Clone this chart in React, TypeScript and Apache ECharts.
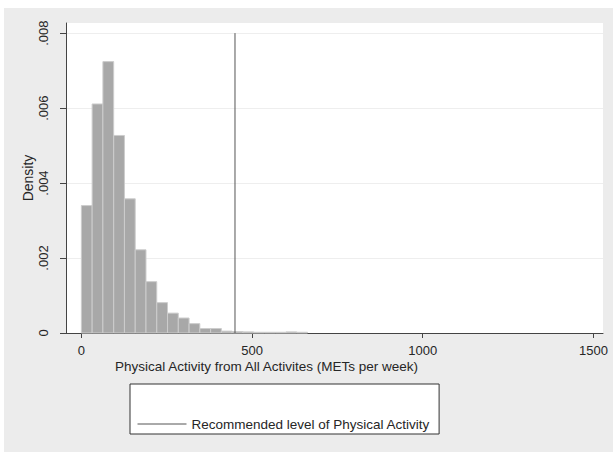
import React, { useEffect, useRef } from "react";
import * as echarts from "echarts";

// Histogram: bins start at 0, each binWidth wide; densities
const binStart = 0;
const binWidth = 31.55;
const densities = [
  0.0034, 0.00611, 0.00724, 0.00527, 0.00358, 0.00222, 0.00137, 0.00081, 0.00053,
  0.0004, 0.00025, 0.00012, 0.00012, 0.00005, 0.00004, 0.00003, 0.00002, 0.00002,
  0.00002, 0.00003, 0.00002,
];
const recommendedLevel = 450;
const recommendedTop = 0.008;
const xTicks = [0, 500, 1000, 1500];
const yTicks = [0, 0.002, 0.004, 0.006, 0.008];
const xTitle = "Physical Activity from All Activites (METs per week)";
const yTitle = "Density";
const legendLabel = "Recommended level of Physical Activity";

const FONT = "'Liberation Sans', Arial, sans-serif";
const TXT = "#262626";

export default function App() {
  const ref = useRef<HTMLDivElement>(null);
  useEffect(() => {
    if (!ref.current) return;
    const chart = echarts.init(ref.current, undefined, { renderer: "svg" });
    const histData = densities.map((d, i) => [
      binStart + i * binWidth,
      binStart + (i + 1) * binWidth,
      d,
    ]);
    chart.setOption({
      animation: false,
      backgroundColor: "#ececec",
      textStyle: { fontFamily: FONT },
      grid: {
        left: 62,
        top: 15,
        right: 10,
        bottom: 119,
        show: true,
        backgroundColor: "#ffffff",
        borderWidth: 0,
      },
      xAxis: {
        type: "value",
        min: -45,
        max: 1528,
        axisLine: { show: true, onZero: false, lineStyle: { color: "#444", width: 1 } },
        axisTick: {
          show: true,
          length: 5,
          customValues: xTicks,
          lineStyle: { color: "#444" },
        },
        axisLabel: {
          customValues: xTicks,
          color: TXT,
          fontSize: 13,
          fontFamily: FONT,
          margin: 11,
          formatter: (v: number) => String(v),
        },
        splitLine: { show: false },
      },
      yAxis: {
        type: "value",
        min: 0,
        max: 0.00827,
        name: yTitle,
        nameLocation: "middle",
        nameGap: 31,
        nameMoveOverlap: false,
        nameTextStyle: { color: TXT, fontSize: 14, fontFamily: FONT },
        axisLine: { show: true, onZero: false, lineStyle: { color: "#444", width: 1 } },
        axisTick: {
          show: true,
          length: 6,
          customValues: yTicks,
          lineStyle: { color: "#444" },
        },
        axisLabel: {
          customValues: yTicks,
          rotate: 90,
          color: TXT,
          fontSize: 13,
          fontFamily: FONT,
          margin: 16,
          formatter: (v: number) => (v === 0 ? "0" : v.toFixed(3).replace(/^0/, "")),
        },
        splitLine: { show: true, lineStyle: { color: "#eeeeee", width: 1 } },
      },
      legend: {
        left: 126,
        top: 376,
        orient: "horizontal",
        backgroundColor: "#ffffff",
        borderColor: "#333333",
        borderWidth: 1,
        borderRadius: 0,
        padding: [33, 9, 3, 7],
        itemWidth: 49,
        itemHeight: 14,
        itemStyle: { opacity: 0 },
        lineStyle: { color: "#555555", width: 1 },
        textStyle: { color: TXT, fontSize: 13.5, fontFamily: FONT },
        data: [legendLabel],
      },
      graphic: [
        {
          type: "text",
          left: 262 - 151,
          top: 359 - 8,
          style: {
            text: xTitle,
            fill: TXT,
            font: `13.5px ${FONT}`,
          },
        },
      ],
      series: [
        {
          type: "custom",
          name: "hist",
          data: histData,
          encode: { x: [0, 1], y: 2 },
          renderItem: (params: any, api: any) => {
            const x0 = api.value(0);
            const x1 = api.value(1);
            const y = api.value(2);
            const p0 = api.coord([x0, y]);
            const p1 = api.coord([x1, 0]);
            return {
              type: "rect",
              shape: {
                x: p0[0],
                y: p0[1],
                width: p1[0] - p0[0],
                height: p1[1] - p0[1],
              },
              style: { fill: "#a8a8a8", stroke: "#cdcdcd", lineWidth: 1 },
            };
          },
        },
        {
          type: "line",
          name: legendLabel,
          data: [
            [recommendedLevel, 0],
            [recommendedLevel, recommendedTop],
          ],
          symbol: "none",
          lineStyle: { color: "#555555", width: 1 },
          itemStyle: { color: "#555555" },
          z: 5,
        },
      ],
    });
    return () => chart.dispose();
  }, []);
  return (
    <div
      ref={ref}
      style={{ position: "absolute", left: 4, top: 8, width: 609, height: 444 }}
    />
  );
}
